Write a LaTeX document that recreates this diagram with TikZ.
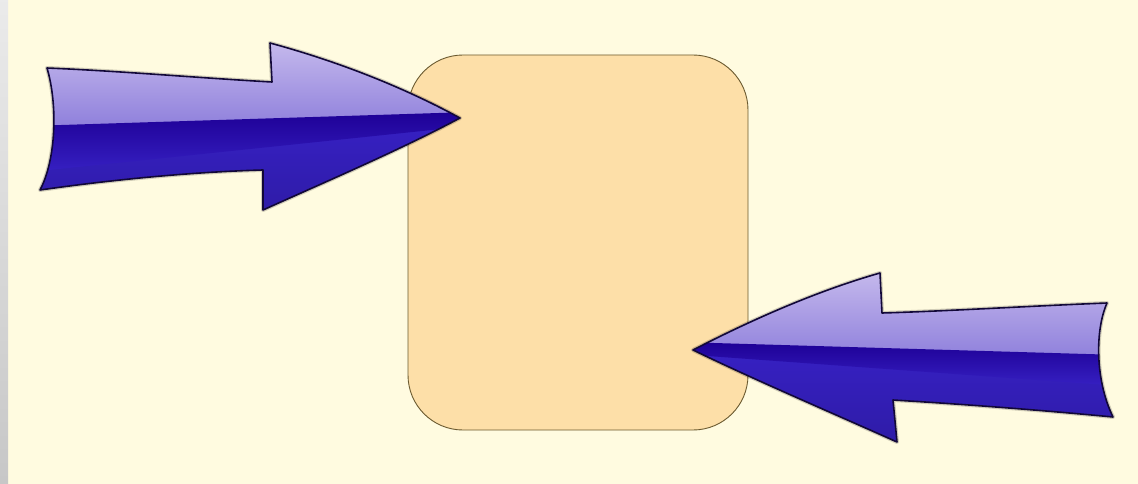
\documentclass[tikz,border=0pt]{standalone}
\usetikzlibrary{shadings}
\definecolor{bgc}{HTML}{FFFBE0}
\definecolor{boxfill}{HTML}{FDDFA8}
\definecolor{boxline}{HTML}{6B5A30}
\definecolor{alight}{HTML}{C4B8EC}
\definecolor{amid}{HTML}{5A48CC}
\definecolor{adark}{HTML}{1E0096}
\definecolor{ablue}{HTML}{3620C2}
\definecolor{aline}{HTML}{120838}
\tikzset{
  arrowshadow/.style={draw=black, line width=4pt, opacity=0.18, line join=round},
  arrowline/.style={draw=aline, line width=1.6pt, line join=round},
  arrowbody/.style={top color=alight, bottom color=amid},
  arrowband/.style={top color=adark, bottom color=ablue},
  arrowlow/.style={top color=ablue, bottom color=ablue!85!black},
  boxstyle/.style={draw=boxline, line width=0.9pt, fill=boxfill, rounded corners=55pt,
    minimum width=340pt, minimum height=375pt, inner sep=0pt}
}
\begin{document}
\begin{tikzpicture}[x=1pt,y=-1pt]
\useasboundingbox (0,0) rectangle (1138,484);
\fill[bgc] (0,0) rectangle (1138,484);
\shade[top color=black!8, bottom color=black!22] (0,0) rectangle (8,484);
\node[boxstyle] (box) at (578,242.5) {};
% left arrow
\def\leftarrowpath{(47,68) .. controls (120,71) and (200,78) .. (272,82) -- (270,43) .. controls (340,62) and (405,88) .. (460,118) .. controls (400,150) and (325,182) .. (263,210) -- (263,170) .. controls (190,172) and (110,180) .. (40,190) .. controls (56,160) and (58,105) .. (47,68) -- cycle}
\path[arrowshadow] \leftarrowpath;
\shade[arrowbody] \leftarrowpath;
\begin{scope}
\clip \leftarrowpath;
\shade[arrowlow] (30,170) -- (470,124) -- (470,220) -- (30,220) -- cycle;
\shade[arrowband] (30,126) -- (470,112) -- (470,126) -- (30,172) -- cycle;
\end{scope}
\path[arrowline] \leftarrowpath;
% right arrow
\def\rightarrowpath{(693,350) .. controls (755,318) and (820,290) .. (880,273) -- (882,313) .. controls (950,311) and (1030,306) .. (1107,303) .. controls (1095,330) and (1095,380) .. (1113,417) .. controls (1040,410) and (960,404) .. (893,400) -- (897,442) .. controls (830,412) and (755,380) .. (693,350) -- cycle}
\path[arrowshadow] \rightarrowpath;
\shade[arrowbody] \rightarrowpath;
\begin{scope}
\clip \rightarrowpath;
\shade[arrowlow] (680,352) -- (1120,384) -- (1120,450) -- (680,450) -- cycle;
\shade[arrowband] (680,342) -- (1120,355) -- (1120,386) -- (680,354) -- cycle;
\end{scope}
\path[arrowline] \rightarrowpath;
\end{tikzpicture}
\end{document}
